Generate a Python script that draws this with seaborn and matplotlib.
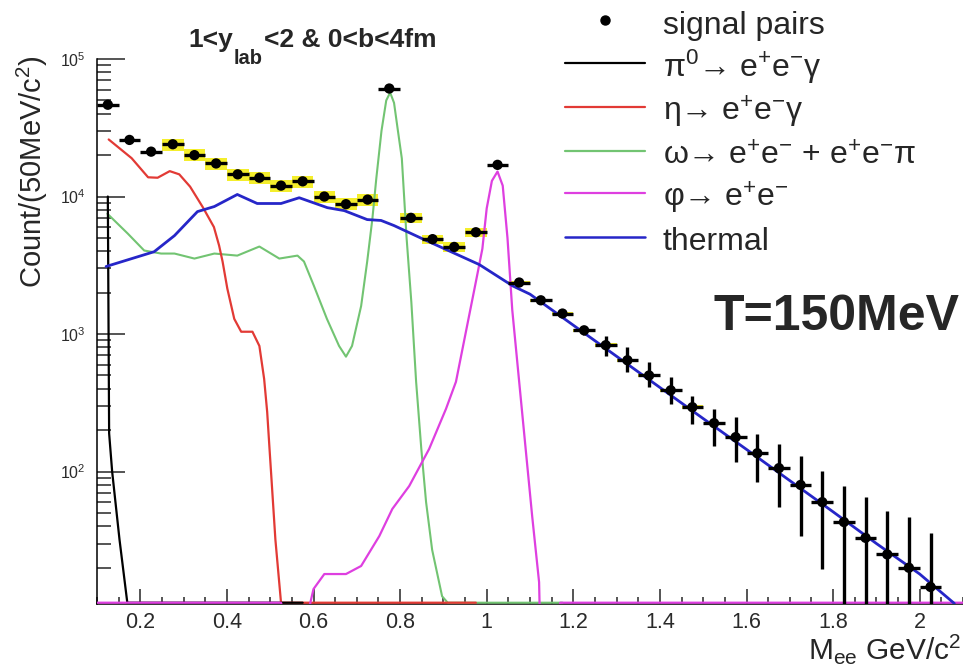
import numpy as np
import pandas as pd
import matplotlib
matplotlib.use("Agg")
import matplotlib.pyplot as plt
import seaborn as sns
from matplotlib.lines import Line2D
from matplotlib.ticker import MultipleLocator, LogLocator, FuncFormatter, NullFormatter

# ---------------- data ----------------
mass_bins = [0.125, 0.175, 0.225, 0.275, 0.325, 0.375, 0.425, 0.475, 0.525, 0.575,
             0.625, 0.675, 0.725, 0.775, 0.825, 0.875, 0.925, 0.975, 1.025, 1.075,
             1.125, 1.175, 1.225, 1.275, 1.325, 1.375, 1.425, 1.475, 1.525, 1.575,
             1.625, 1.675, 1.725, 1.775, 1.825, 1.875, 1.925, 1.975, 2.025]
signal_counts = [46500, 25800, 21200, 24000, 20000, 17400, 14500, 13700, 12000, 12900,
                 10000, 8800, 9500, 61000, 7000, 4900, 4300, 5500, 17000, 2370,
                 1760, 1410, 1065, 830, 645, 500, 390, 294, 225, 178,
                 136, 106, 80, 60, 43, 33, 25, 20, 14.5]
signal_low = [45000, 25000, 20500, 23300, 19400, 16900, 14000, 13200, 11600, 12400,
              9600, 8400, 9100, 59500, 6700, 4650, 4080, 5250, 16500, 2250,
              1660, 1320, 980, 695, 531, 413, 311, 222, 154, 117,
              84, 55, 34, 19.5, 5, 5, 5, 5, 5]
signal_high = [48000, 26600, 21900, 24700, 20600, 17900, 15000, 14200, 12400, 13400,
               10400, 9200, 9900, 62500, 7300, 5150, 4520, 5750, 17500, 2490,
               1860, 1500, 1150, 972, 807, 628, 488, 355, 286, 250,
               188, 159, 130, 101, 78.5, 65, 52, 47, 36]
sys_rel = [0, 0, 0, 0.10, 0.10, 0.10, 0.10, 0.10, 0.10, 0.10,
           0.10, 0.10, 0.10, 0, 0.08, 0.08, 0.08, 0.08, 0, 0.03,
           0.03, 0.03, 0.03, 0.03, 0.03, 0.03, 0.03, 0.03, 0, 0,
           0, 0, 0, 0, 0, 0, 0, 0, 0]

pi0_mass = [0.125, 0.128, 0.135, 0.152, 0.170, 0.575]
pi0_count = [10000, 190, 100, 32, 0, 0]

eta_mass = [0.127, 0.18, 0.218, 0.24, 0.268, 0.29, 0.315, 0.345, 0.37, 0.382, 0.39,
            0.401, 0.417, 0.433, 0.459, 0.475, 0.486, 0.493, 0.498, 0.503, 0.512,
            0.525, 0.975]
eta_count = [26000, 19000, 13800, 13700, 15300, 14500, 11800, 8300, 6000, 4400, 3370,
             2140, 1290, 1040, 1040, 820, 472, 272, 154, 88, 32,
             0, 0]

omega_mass = [0.124, 0.171, 0.209, 0.248, 0.279, 0.325, 0.371, 0.424, 0.475, 0.521,
              0.563, 0.578, 0.601, 0.631, 0.659, 0.675, 0.689, 0.71, 0.724, 0.736,
              0.745, 0.757, 0.768, 0.777, 0.786, 0.795, 0.804, 0.815, 0.826, 0.837,
              0.849, 0.86, 0.874, 0.897, 0.91, 1.175]
omega_count = [7500, 5380, 4050, 3850, 3850, 3540, 3850, 3720, 4330, 3540,
               3720, 3370, 2240, 1290, 820, 685, 820, 1600, 3370, 6900,
               13500, 30000, 50000, 57000, 48000, 30000, 18900, 5000, 1700, 450,
               146, 60, 27, 12.4, 0, 0]

phi_mass = [0.1, 0.525, 0.56, 0.6, 0.625, 0.675, 0.71, 0.752, 0.782, 0.821, 0.867,
            0.906, 0.929, 0.952, 0.975, 0.99, 1.0, 1.012, 1.025, 1.037, 1.048,
            1.059, 1.075, 1.09, 1.105, 1.121, 1.126, 1.17, 2.1]
phi_count = [0, 0, 4, 14, 18, 18, 20.6, 34, 53.5, 78.5, 146,
             286, 450, 1040, 2400, 4170, 8200, 13000, 15200, 12000, 5000,
             1500, 450, 146, 47.5, 15.7, 3, 0, 0]

thermal_mass = [0.121, 0.232, 0.279, 0.332, 0.371, 0.424, 0.47, 0.525, 0.567, 0.632,
                0.671, 0.724, 0.756, 0.786, 0.851, 0.983, 1.06, 1.1, 1.2, 1.3,
                1.4, 1.5, 1.6, 1.7, 1.8, 1.9, 2.0, 2.08]
thermal_count = [3100, 3970, 5200, 7770, 8460, 10350, 8900, 8900, 9800, 8300,
                 7900, 6800, 6700, 6150, 4940, 3200, 2240, 1950, 1160, 689,
                 409, 243, 145, 86, 51, 30, 18, 11]

legend_labels = ["signal pairs",
                 "\u03c0$^{0}$\u2192 e$^{+}$e$^{-}$\u03b3",
                 "\u03b7\u2192 e$^{+}$e$^{-}$\u03b3",
                 "\u03c9\u2192 e$^{+}$e$^{-}$ + e$^{+}$e$^{-}$\u03c0",
                 "\u03c6\u2192 e$^{+}$e$^{-}$",
                 "thermal"]

# ---------------- style ----------------
sns.set_style("ticks")
plt.rcParams["font.family"] = ["Liberation Sans", "DejaVu Sans"]
plt.rcParams["mathtext.default"] = "regular"

W, H = 963, 665
fig = plt.figure(figsize=(W / 100, H / 100), dpi=100)
ax = fig.add_axes([97 / W, 1 - 604 / H, 866 / W, 545 / H])

YMIN, YMAX = 10.9, 1e5
FLOOR = YMIN * 1.022

ax.set_yscale("log")
ax.set_xlim(0.1, 2.1)
ax.set_ylim(YMIN, YMAX)

def curve_df(m, v):
    v = np.asarray(v, dtype=float)
    return pd.DataFrame({"mass": m, "count": np.where(v <= 0, FLOOR, v)})

c_red, c_green, c_mag, c_blue = "#e23a35", "#72c472", "#de3fe0", "#2626c8"

# systematic boxes
sig = np.asarray(signal_counts, dtype=float)
srel = np.asarray(sys_rel)
msk = srel > 0
ax.bar(np.asarray(mass_bins)[msk], (2 * sig * srel)[msk], bottom=(sig * (1 - srel))[msk],
       width=0.05, color="#f4ee2c", edgecolor="none", zorder=2)

# curves (draw order matters for the baseline colours)
sns.lineplot(data=curve_df(omega_mass, omega_count), x="mass", y="count", color=c_green, lw=1.5,
             sort=False, estimator=None, ax=ax, zorder=3)
sns.lineplot(data=curve_df(eta_mass, eta_count), x="mass", y="count", color=c_red, lw=1.6,
             sort=False, estimator=None, ax=ax, zorder=3.1)
sns.lineplot(data=curve_df(pi0_mass, pi0_count), x="mass", y="count", color="black", lw=1.6,
             sort=False, estimator=None, ax=ax, zorder=3.2)
sns.lineplot(data=curve_df(phi_mass, phi_count), x="mass", y="count", color=c_mag, lw=1.6,
             sort=False, estimator=None, ax=ax, zorder=3.3)
sns.lineplot(data=curve_df(thermal_mass, thermal_count), x="mass", y="count", color=c_blue, lw=2.0,
             sort=False, estimator=None, ax=ax, zorder=3.4)

# signal points with error bars
lo = sig - np.asarray(signal_low)
hi = np.asarray(signal_high) - sig
ax.errorbar(mass_bins, sig, xerr=0.025, yerr=[lo, hi], fmt="none", ecolor="black",
            elinewidth=2.4, capsize=0, zorder=4)
sns.scatterplot(x=mass_bins, y=signal_counts, color="black", s=55, edgecolor="none",
                ax=ax, zorder=5, legend=False)

# axes styling (ROOT-like)
for s in ("top", "right"):
    ax.spines[s].set_visible(False)
for s in ("left", "bottom"):
    ax.spines[s].set_linewidth(1.1)
    ax.spines[s].set_color("black")
    ax.spines[s].set_zorder(2.5)

ax.xaxis.set_major_locator(MultipleLocator(0.2))
ax.xaxis.set_minor_locator(MultipleLocator(0.05))
ax.xaxis.set_major_formatter(FuncFormatter(lambda v, p: f"{v:g}"))
ax.yaxis.set_major_locator(LogLocator(base=10, numticks=10))
ax.yaxis.set_minor_locator(LogLocator(base=10, subs=range(2, 10), numticks=20))
ax.yaxis.set_minor_formatter(NullFormatter())

ax.tick_params(axis="x", which="major", direction="in", length=10.8, width=1.1, pad=6,
               labelsize=15.5, labelcolor="#2a2a2a")
ax.tick_params(axis="x", which="minor", direction="in", length=5, width=1.1)
ax.tick_params(axis="y", which="major", direction="in", length=20, width=1.1, pad=8,
               labelsize=11.5, labelcolor="#2a2a2a")
ax.tick_params(axis="y", which="minor", direction="in", length=10, width=1.1)

ax.set_ylabel("Count/(50MeV/c$^{2}$)", fontsize=21, loc="top")
ax.yaxis.set_label_coords(-0.0545, 1.008)
ax.set_xlabel(r"M$_{ee}$ GeV/c$^{2}$", fontsize=21.5, loc="right")
ax.xaxis.set_label_coords(0.9975, -0.052)

# legend
handles = [Line2D([], [], marker="o", ls="none", color="black", ms=6.5),
           Line2D([], [], color="black", lw=1.6),
           Line2D([], [], color=c_red, lw=1.6),
           Line2D([], [], color=c_green, lw=1.6),
           Line2D([], [], color=c_mag, lw=1.6),
           Line2D([], [], color=c_blue, lw=1.8)]
ax.legend(handles, legend_labels, loc="upper left", bbox_to_anchor=(565 / W, 1 - 6 / H),
          bbox_transform=fig.transFigure, frameon=False, fontsize=23, handlelength=2.5,
          handletextpad=0.56, handleheight=1.25, labelspacing=0.22, borderpad=0,
          borderaxespad=0)

# title built from pieces (ROOT-like low subscript)
renderer = fig.canvas.get_renderer()
x = 188
for txt, size, dy in [("1<y", 19, 0), ("lab", 14.5, 17), ("<2 & 0<b<4fm", 19, 0)]:
    t = fig.text(x / W, 1 - (47 + dy) / H, txt, fontsize=size, fontweight="bold",
                 ha="left", va="baseline")
    x = t.get_window_extent(renderer).x1 + 1

fig.text(713 / W, 1 - 330 / H, "T=150MeV", fontsize=36, fontweight="bold",
         ha="left", va="baseline")

fig.savefig("out.png", dpi=100)
